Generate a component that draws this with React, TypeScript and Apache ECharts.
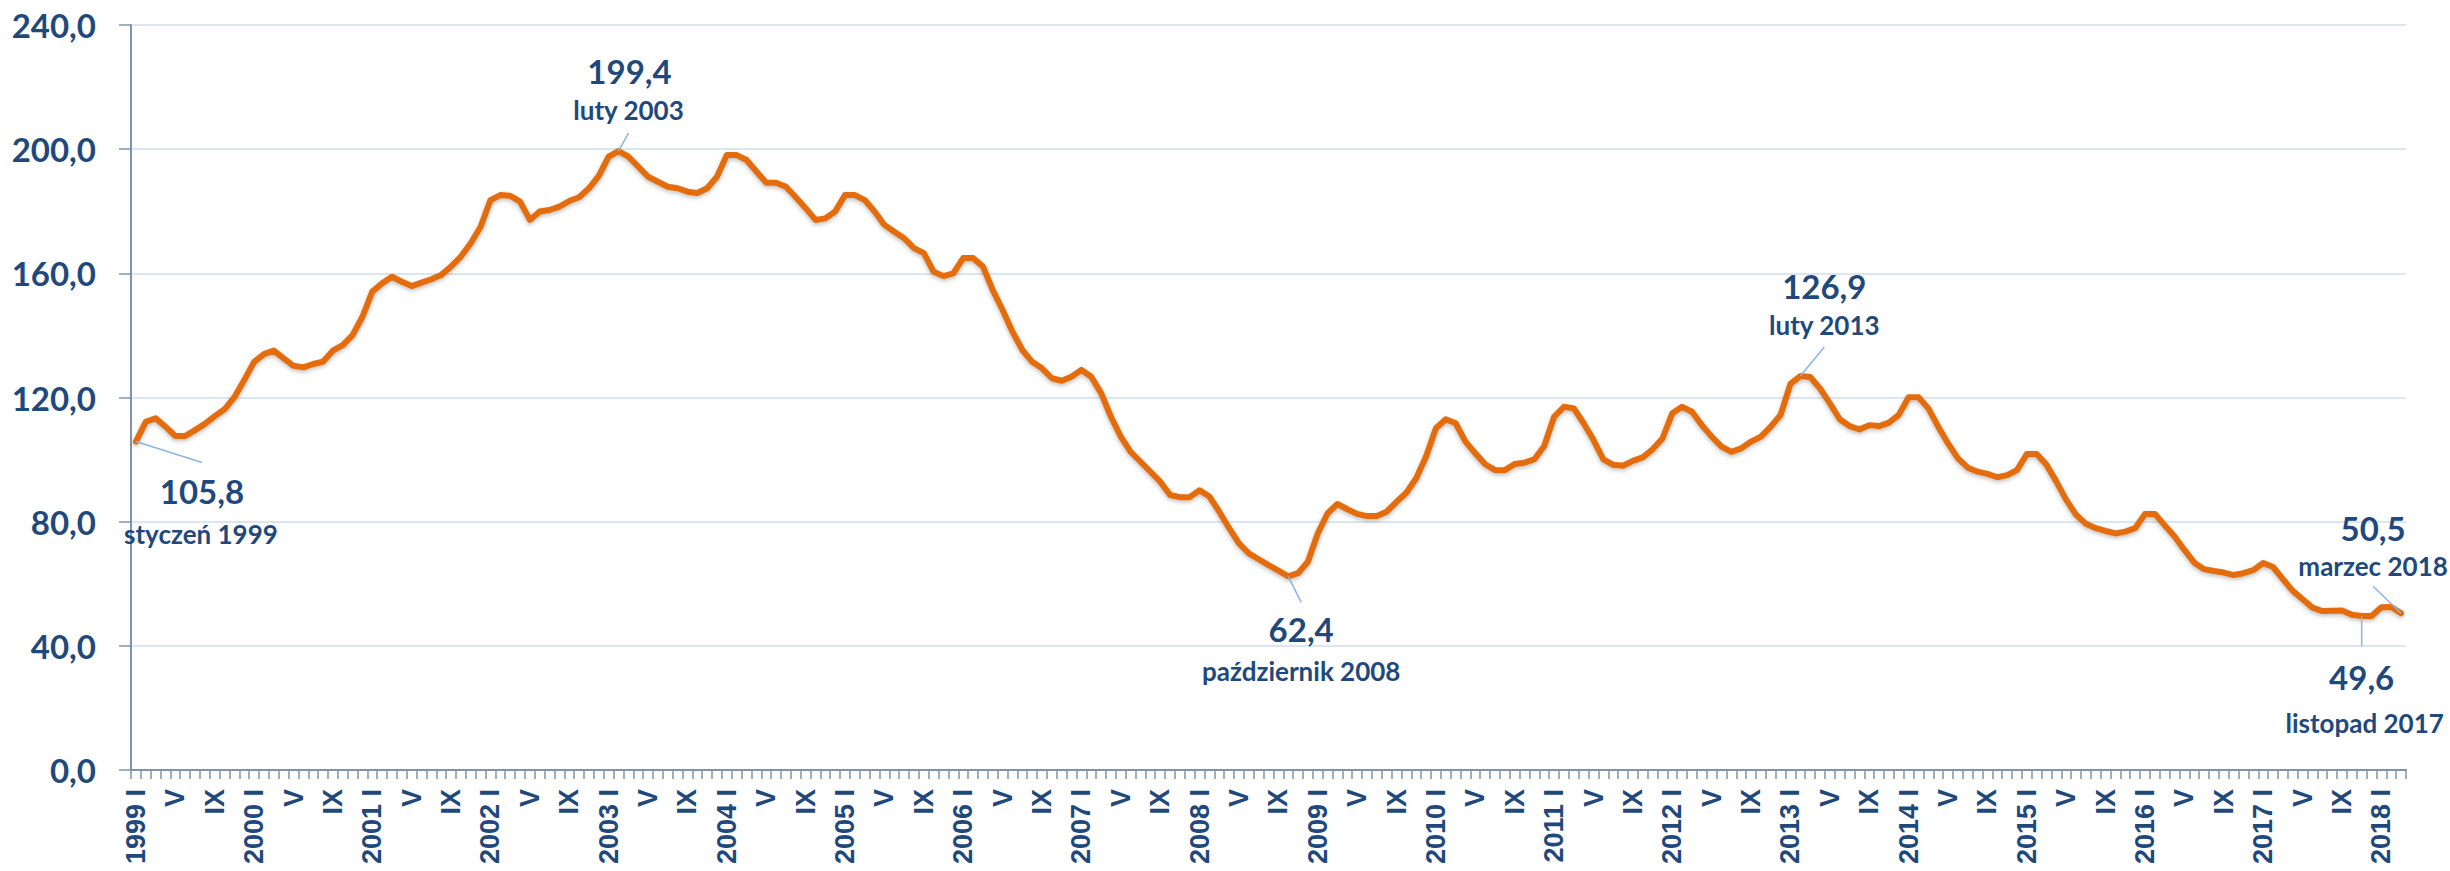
import React, { useEffect, useRef } from "react";
import * as echarts from "echarts";

// Monthly values, January..December of each year (index, reading off the chart)
const v1999 = [105.8, 112.2, 113.3, 110.6, 107.6, 107.6, 109.5, 111.5, 114.0, 116.2, 120.1, 125.6];
const v2000 = [131.5, 134.0, 135.1, 132.6, 130.2, 129.7, 130.8, 131.5, 135.1, 136.9, 140.1, 146.0];
const v2001 = [154.1, 156.8, 158.9, 157.3, 155.9, 157.0, 158.1, 159.5, 162.2, 165.4, 169.7, 175.0];
const v2002 = [183.6, 185.2, 185.0, 183.1, 177.2, 179.9, 180.4, 181.5, 183.3, 184.5, 187.4, 191.4];
const v2003 = [197.6, 199.4, 197.6, 194.4, 191.1, 189.5, 187.9, 187.4, 186.3, 185.9, 187.4, 191.1];
const v2004 = [198.1, 198.1, 196.5, 192.8, 189.2, 189.2, 187.9, 184.5, 181.0, 177.2, 177.7, 179.9];
const v2005 = [185.2, 185.2, 183.6, 179.9, 175.6, 173.4, 171.3, 168.1, 166.5, 160.5, 159.1, 160.0];
const v2006 = [164.9, 164.9, 162.2, 154.6, 148.2, 141.2, 135.3, 131.5, 129.4, 126.2, 125.4, 126.7];
const v2007 = [128.9, 126.7, 121.4, 113.8, 107.4, 102.5, 99.3, 96.1, 92.9, 88.6, 87.9, 87.9];
const v2008 = [90.1, 88.1, 83.2, 77.9, 73.0, 69.8, 67.9, 66.0, 64.2, 62.4, 63.4, 67.1];
const v2009 = [76.2, 82.7, 85.7, 84.0, 82.5, 81.8, 81.8, 83.2, 86.4, 89.3, 94.0, 101.0];
const v2010 = [110.1, 113.0, 111.7, 105.8, 102.0, 98.5, 96.6, 96.6, 98.6, 99.0, 100.1, 104.4];
const v2011 = [113.8, 117.0, 116.5, 111.7, 106.3, 100.1, 98.3, 98.0, 99.6, 100.7, 103.3, 106.8];
const v2012 = [114.9, 117.0, 115.4, 111.1, 107.4, 104.2, 102.5, 103.6, 105.8, 107.4, 110.6, 114.4];
const v2013 = [124.4, 126.9, 126.6, 122.9, 118.1, 113.0, 110.8, 109.7, 111.1, 110.8, 111.9, 114.4];
const v2014 = [120.1, 120.1, 116.5, 110.6, 105.2, 100.4, 97.4, 96.1, 95.4, 94.3, 95.0, 96.6];
const v2015 = [101.8, 101.8, 98.3, 92.9, 87.0, 82.2, 79.3, 77.9, 77.0, 76.2, 76.8, 77.9];
const v2016 = [82.5, 82.5, 78.8, 75.2, 70.9, 66.8, 64.7, 64.1, 63.6, 62.8, 63.4, 64.4];
const v2017 = [66.7, 65.4, 61.5, 57.7, 55.0, 52.3, 51.2, 51.3, 51.4, 50.0, 49.6, 49.6];
const v2018 = [52.4, 52.5, 50.5];

const YEARS = [1999, 2000, 2001, 2002, 2003, 2004, 2005, 2006, 2007, 2008, 2009, 2010, 2011, 2012, 2013, 2014, 2015, 2016, 2017, 2018];
const YEAR_VALUES = [v1999, v2000, v2001, v2002, v2003, v2004, v2005, v2006, v2007, v2008, v2009, v2010, v2011, v2012, v2013, v2014, v2015, v2016, v2017, v2018];
const ROMAN = ["I", "II", "III", "IV", "V", "VI", "VII", "VIII", "IX", "X", "XI", "XII"];
const MONTHS_PL = ["styczeń", "luty", "marzec", "kwiecień", "maj", "czerwiec", "lipiec", "sierpień", "wrzesień", "październik", "listopad", "grudzień"];
const Y_TICKS = [0, 40, 80, 120, 160, 200, 240];

// indices of annotated points (Jan 1999, Feb 2003, Oct 2008, Feb 2013, Nov 2017, Mar 2018)
const ANNOTATED = [0, 49, 117, 169, 226, 230];

// layout offsets (pixels) of annotation texts relative to their point
const ANNOTATION_LAYOUT = [
  { num: [66, 49], month: [65, 92], leader: [66, 21] },
  { num: [11, -80], month: [10, -41], leader: [10, -18] },
  { num: [13, 53], month: [13, 95], leader: [13, 26] },
  { num: [24, -90], month: [24, -51], leader: [24, -29] },
  { num: [0, 61], month: [3, 107], leader: [0, 30] },
  { num: [-28, -85], month: [-28, -47], leader: [-28, -27] },
];

const categories: string[] = [];
const values: number[] = [];
const monthNames: string[] = [];
YEARS.forEach((y, yi) => {
  YEAR_VALUES[yi].forEach((v, m) => {
    categories.push(m === 0 ? `${y} I` : ROMAN[m]);
    values.push(v);
    monthNames.push(`${MONTHS_PL[m]} ${y}`);
  });
});

const fmt = (v: number) => v.toFixed(1).replace(".", ",");

const TEXT_COLOR = "#1F497D";
const LINE_COLOR = "#E46C0A";
const LEADER_COLOR = "#8DB3E2";
const AXIS_COLOR = "#8093AC";

export default function App() {
  const ref = useRef<HTMLDivElement>(null);
  useEffect(() => {
    if (!ref.current) return;
    const chart = echarts.init(ref.current, null, { renderer: "svg" });
    chart.setOption({
      animation: false,
      backgroundColor: "#ffffff",
      grid: { left: 131, right: 44, top: 25, bottom: 101, containLabel: false },
      xAxis: {
        type: "category",
        data: categories,
        boundaryGap: true,
        axisLine: { show: true, lineStyle: { color: AXIS_COLOR, width: 2 } },
        axisTick: { show: true, interval: 0, length: 9, lineStyle: { color: AXIS_COLOR, width: 1.5 } },
        axisLabel: {
          interval: 3,
          rotate: 90,
          margin: 19,
          color: TEXT_COLOR,
          fontFamily: "Liberation Sans, Arial, sans-serif",
          fontWeight: "bold",
          fontSize: 27,
        },
        splitLine: { show: false },
      },
      yAxis: {
        type: "value",
        min: Y_TICKS[0],
        max: Y_TICKS[Y_TICKS.length - 1],
        interval: 40,
        axisLine: { show: true, lineStyle: { color: AXIS_COLOR, width: 2 } },
        axisTick: { show: true, length: 12, lineStyle: { color: AXIS_COLOR, width: 1.5 } },
        axisLabel: {
          margin: 35,
          color: TEXT_COLOR,
          fontFamily: "Lato, sans-serif",
          fontWeight: "bold",
          fontSize: 33,
          formatter: (v: number) => fmt(v),
        },
        splitLine: { show: true, lineStyle: { color: "#DCE6F2", width: 2 } },
      },
      series: [
        {
          type: "line",
          data: values,
          symbol: "none",
          smooth: false,
          lineStyle: {
            color: LINE_COLOR,
            width: 6,
            join: "round",
            cap: "round",
            shadowColor: "rgba(0,0,0,0.25)",
            shadowBlur: 4,
            shadowOffsetY: 2,
          },
          z: 2,
        },
      ],
    });

    const graphics: any[] = [];
    ANNOTATED.forEach((idx, k) => {
      const lay = ANNOTATION_LAYOUT[k];
      const [px, py] = chart.convertToPixel({ seriesIndex: 0 }, [idx, values[idx]]) as number[];
      graphics.push({
        type: "line",
        z: 10,
        shape: { x1: px, y1: py, x2: px + lay.leader[0], y2: py + lay.leader[1] },
        style: { stroke: LEADER_COLOR, lineWidth: 1.5 },
      });
      graphics.push({
        type: "text",
        z: 10,
        x: px + lay.num[0],
        y: py + lay.num[1],
        style: {
          text: fmt(values[idx]),
          align: "center",
          verticalAlign: "middle",
          fill: TEXT_COLOR,
          fontFamily: "Lato, sans-serif",
          fontWeight: "bold",
          fontSize: 33,
        },
      });
      graphics.push({
        type: "text",
        z: 10,
        x: px + lay.month[0],
        y: py + lay.month[1],
        style: {
          text: monthNames[idx],
          align: "center",
          verticalAlign: "middle",
          fill: TEXT_COLOR,
          fontFamily: "Lato, sans-serif",
          fontWeight: "bold",
          fontSize: 26,
        },
      });
    });
    chart.setOption({ graphic: graphics });

    return () => chart.dispose();
  }, []);

  return (
    <div
      ref={ref}
      style={{ position: "fixed", left: 0, top: 0, width: 2450, height: 871, background: "#fff" }}
    />
  );
}
